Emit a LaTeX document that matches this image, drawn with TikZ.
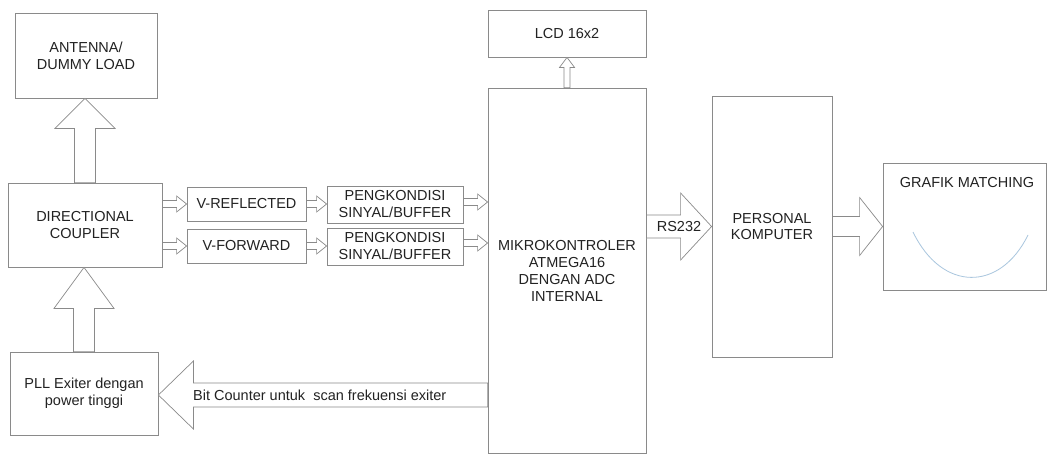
\documentclass[tikz,border=0pt]{standalone}
\usepackage{fontspec}
\setmainfont{Liberation Sans}
\usetikzlibrary{calc}
\definecolor{linegray}{HTML}{8A8A8A}
\definecolor{textdark}{HTML}{222222}
\definecolor{curveblue}{HTML}{A9C6DE}
\tikzset{
  box/.style={draw=linegray, line width=0.8pt, rectangle, inner sep=0pt, align=center,
    text=textdark, font=\fontsize{14.5}{17}\selectfont},
  barrow/.style={draw=linegray, line width=0.7pt, fill=white},
  lbl/.style={text=textdark, font=\fontsize{14.5}{17}\selectfont, inner sep=0pt},
}
% horizontal block arrow: start, end, shaft half width, head half width, head length (signed)
\newcommand{\harrow}[5]{%
  \draw[barrow] let \p1=(#1), \p2=(#2) in
    (\x1,{\y1+#3pt}) -- ({\x2-(#5pt)},{\y1+#3pt}) -- ({\x2-(#5pt)},{\y1+#4pt}) -- (\x2,\y1)
    -- ({\x2-(#5pt)},{\y1-#4pt}) -- ({\x2-(#5pt)},{\y1-#3pt}) -- (\x1,{\y1-#3pt}) -- cycle;}
% vertical block arrow: start, end, shaft half width, head half width, head length (signed, canvas)
\newcommand{\varrow}[5]{%
  \draw[barrow] let \p1=(#1), \p2=(#2) in
    ({\x1+#3pt},\y1) -- ({\x1+#3pt},{\y2-(#5pt)}) -- ({\x1+#4pt},{\y2-(#5pt)}) -- (\x1,\y2)
    -- ({\x1-#4pt},{\y2-(#5pt)}) -- ({\x1-#3pt},{\y2-(#5pt)}) -- ({\x1-#3pt},\y1) -- cycle;}
\begin{document}
\begin{tikzpicture}[x=1pt,y=-1pt]
\useasboundingbox[fill=white] (0,0) rectangle (1048,456);

\node[box, minimum width=142pt, minimum height=85pt] (ant) at (86,55.5) {ANTENNA/\\DUMMY LOAD};
\node[box, minimum width=154pt, minimum height=84pt] (coup) at (85,225) {DIRECTIONAL\\COUPLER};
\node[box, minimum width=148pt, minimum height=83pt] (pll) at (84,393.5) {PLL Exiter dengan\\power tinggi};
\node[box, minimum width=119pt, minimum height=34pt] (vref) at (246.5,204) {V-REFLECTED};
\node[box, minimum width=119pt, minimum height=34pt] (vfwd) at (246.5,246) {V-FORWARD};
\node[box, minimum width=136pt, minimum height=37pt] (pk1) at (395,204.5) {PENGKONDISI\\SINYAL/BUFFER};
\node[box, minimum width=136pt, minimum height=37pt] (pk2) at (395,246.5) {PENGKONDISI\\SINYAL/BUFFER};
\node[box, minimum width=158pt, minimum height=365pt] (mcu) at (567,270.5) {MIKROKONTROLER\\ATMEGA16\\DENGAN ADC\\INTERNAL};
\node[box, minimum width=158pt, minimum height=47pt] (lcd) at (567,33.5) {LCD 16x2};
\node[box, minimum width=120pt, minimum height=261pt] (pc) at (772,226.5) {PERSONAL\\KOMPUTER};
\node[box, minimum width=163pt, minimum height=127pt] (graf) at (964.5,226.5) {};
\node[lbl] (graft) at (967,183) {GRAFIK MATCHING};
\draw[curveblue, line width=0.8pt] (913,232) .. controls (942,292) and (1000,292) .. (1028,235);

% vertical big arrows (canvas y points up: positive head length means upward arrow)
\varrow{coup.north}{coup.north |- ant.south}{10.5}{30}{30}
\varrow{pll.north}{pll.north |- coup.south}{10.5}{30}{41}
\varrow{mcu.north}{lcd.south}{3}{7.5}{10}

% small horizontal arrows
\harrow{coup.east |- vref}{vref.west}{3.5}{8}{10}
\harrow{coup.east |- vfwd}{vfwd.west}{3.5}{8}{10}
\harrow{vref.east}{pk1.west |- vref}{3.5}{8}{10}
\harrow{vfwd.east}{pk2.west |- vfwd}{3.5}{8}{10}
\harrow{pk1.east |- 0,202}{mcu.west |- 0,202}{3.5}{8}{10}
\harrow{pk2.east |- 0,243}{mcu.west |- 0,243}{3.5}{8}{10}

% big horizontal arrows
\harrow{mcu.east |- pc}{pc.west}{11.5}{33.5}{31}
\harrow{pc.east |- graf}{graf.west}{10}{29}{23}
\harrow{mcu.west |- 0,395}{pll.east |- 0,395}{12}{34}{-35}

\node[lbl] (rs) at (679,227) {RS232};
\node[lbl, anchor=west] (bit) at (193,395) {Bit Counter untuk\ \ scan frekuensi exiter};
\end{tikzpicture}
\end{document}
